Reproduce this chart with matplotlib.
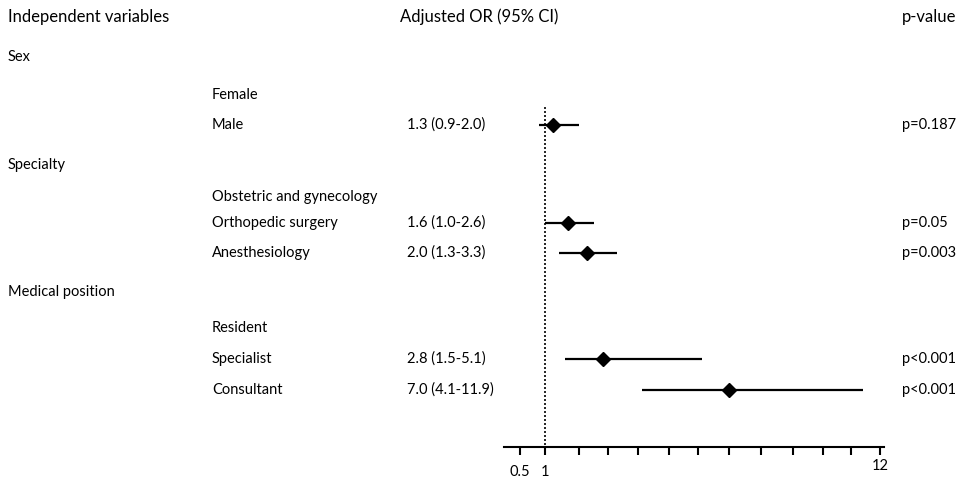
import numpy as np
import matplotlib
matplotlib.use("Agg")
import matplotlib.pyplot as plt

# ---- data ----
groups = ["Sex", "Specialty", "Medical position"]
levels = [["Female", "Male"],
          ["Obstetric and gynecology", "Orthopedic surgery", "Anesthesiology"],
          ["Resident", "Specialist", "Consultant"]]
# text column as printed in the table (None = reference level)
or_text = [[None, "1.3 (0.9-2.0)"],
           [None, "1.6 (1.0-2.6)", "2.0 (1.3-3.3)"],
           [None, "2.8 (1.5-5.1)", "7.0 (4.1-11.9)"]]
p_values = [[None, "p=0.187"], [None, "p=0.05", "p=0.003"],
            [None, "p<0.001", "p<0.001"]]
# marks as drawn in the figure
or_est = [[None, 1.24], [None, 1.68, 2.28], [None, 2.83, 7.0]]
ci_low = [[None, 0.88], [None, 1.0, 1.41], [None, 1.59, 4.13]]
ci_high = [[None, 2.0], [None, 2.52, 3.3], [None, 6.13, 11.41]]
tick_values = [0.5, 1, 2, 3, 4, 5, 6, 7, 8, 9, 10, 11, 12]
tick_labels = ["0.5", "1", "", "", "", "", "", "", "", "", "", "", "12"]
headers = ["Independent variables", "Adjusted OR (95% CI)", "p-value"]

# ---- layout (pixels) ----
W, H = 962, 479
group_rows = [57, 165, 292]
level_rows = [[95, 125], [197, 223, 253], [328, 359, 390]]
header_row = 17
axis_y = 447
tick_px = [495, 520, 545, 579, 608, 638, 669, 698, 729, 761, 793, 823, 851, 880, 909]
tick_at = [0.0] + tick_values + [13.0]
FONT = "Lato"
FS = 10.5

fig = plt.figure(figsize=(W / 100, H / 100), dpi=100)
fig.patch.set_facecolor("white")

ax_l, ax_r = 504, 884
ax = fig.add_axes([ax_l / W, (H - axis_y) / H, (ax_r - ax_l) / W, axis_y / H])

def fwd(x):
    return np.interp(np.asarray(x, dtype=float), tick_at, tick_px)
def inv(p):
    return np.interp(np.asarray(p, dtype=float), tick_px, tick_at)
ax.set_xscale("function", functions=(fwd, inv))
ax.set_xlim(float(inv(ax_l)), float(inv(ax_r)))
ax.set_ylim(axis_y, 0)

for s in ["top", "right", "left"]:
    ax.spines[s].set_visible(False)
ax.spines["bottom"].set_linewidth(1.5)
ax.set_yticks([])
ax.set_xticks(tick_values)
ax.set_xticklabels(tick_labels, fontsize=FS, family=FONT)
ax.xaxis.set_minor_locator(matplotlib.ticker.NullLocator())
ax.tick_params(axis="x", direction="out", length=6, width=1.5, pad=3)
for lab, txt in zip(ax.get_xticklabels(), tick_labels):
    if txt in ("0.5", "1"):
        lab.set_transform(lab.get_transform() +
                          matplotlib.transforms.ScaledTranslation(0, -5 / 100, fig.dpi_scale_trans))

ax.plot([1, 1], [107, axis_y], ls=(0, (1.2, 1.2)), color="black", lw=1.2)

for g in range(len(groups)):
    for i in range(len(levels[g])):
        if or_est[g][i] is None:
            continue
        y = level_rows[g][i]
        ax.plot([ci_low[g][i], ci_high[g][i]], [y, y], color="black", lw=1.6,
                solid_capstyle="butt")
        ax.plot([or_est[g][i]], [y], marker="D", color="black", ms=7)

# ---- text columns ----
tr = matplotlib.transforms.blended_transform_factory(fig.transFigure, ax.transData)
x_group, x_level, x_or, x_p = 8 / W, 212 / W, 407 / W, 902 / W
tkw = dict(transform=tr, va="center", ha="left", fontsize=FS, family=FONT,
           clip_on=False)
hkw = dict(tkw, fontsize=12)
ax.text(x_group, header_row, headers[0], **hkw)
ax.text(400 / W, header_row, headers[1], **hkw)
ax.text(x_p, header_row, headers[2], **hkw)
for g in range(len(groups)):
    ax.text(x_group, group_rows[g], groups[g], **tkw)
    for i in range(len(levels[g])):
        y = level_rows[g][i]
        ax.text(x_level, y, levels[g][i], **tkw)
        if or_text[g][i] is not None:
            ax.text(x_or, y, or_text[g][i], **tkw)
            ax.text(x_p, y, p_values[g][i], **tkw)

fig.savefig("out.png", dpi=100, facecolor="white")
